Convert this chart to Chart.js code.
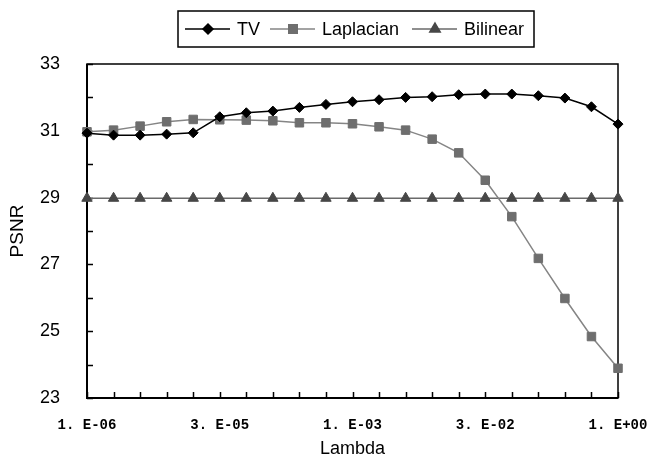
<!DOCTYPE html>
<html>
<head>
<meta charset="utf-8">
<script src="https://cdn.jsdelivr.net/npm/chart.js@4"></script>
<style>
  html, body { margin: 0; padding: 0; background: #fff; }
  #wrap { width: 647px; height: 461px; }
</style>
</head>
<body>
<div id="wrap"><canvas id="psnr-chart" width="647" height="461"></canvas></div>
<script>
const lambdaLabels = [
  "1. E-06", "2. E-06", "4. E-06", "8. E-06", "2. E-05",
  "3. E-05", "6. E-05", "1. E-04", "3. E-04", "5. E-04",
  "1. E-03", "2. E-03", "4. E-03", "8. E-03", "2. E-02",
  "3. E-02", "7. E-02", "1. E-01", "3. E-01", "5. E-01",
  "1. E+00"
];
const tvPsnr = [30.93, 30.87, 30.87, 30.9, 30.94, 31.42, 31.54, 31.59, 31.7, 31.79,
  31.87, 31.93, 32.0, 32.02, 32.08, 32.1, 32.1, 32.05, 31.98, 31.72, 31.2];
const laplacianPsnr = [30.97, 31.02, 31.14, 31.27, 31.34, 31.33, 31.32, 31.3, 31.24, 31.24,
  31.21, 31.12, 31.02, 30.75, 30.34, 29.52, 28.43, 27.18, 25.98, 24.84, 23.89];
const bilinearPsnr = [28.98, 28.98, 28.98, 28.98, 28.98, 28.98, 28.98, 28.98, 28.98, 28.98,
  28.98, 28.98, 28.98, 28.98, 28.98, 28.98, 28.98, 28.98, 28.98, 28.98, 28.98];
const yTickLabels = ["23", "25", "27", "29", "31", "33"];

const seriesNames = ["TV", "Laplacian", "Bilinear"];

// frame, inward tick marks and the boxed legend
const excelFrame = {
  id: "excelFrame",
  beforeDatasetsDraw(chart) {
    const { ctx, chartArea: a, scales } = chart;
    ctx.save();
    ctx.strokeStyle = "#000";
    ctx.lineWidth = 1.5;
    ctx.strokeRect(a.left, a.top, a.right - a.left, a.bottom - a.top);
    ctx.lineWidth = 2;
    ctx.beginPath();
    ctx.moveTo(a.left, a.top);
    ctx.lineTo(a.left, a.bottom);
    ctx.lineTo(a.right, a.bottom);
    ctx.stroke();
    ctx.lineWidth = 1.5;
    ctx.beginPath();
    for (let i = 0; i < lambdaLabels.length; i++) {
      const x = Math.round(scales.x.getPixelForValue(i)) + 0.5;
      ctx.moveTo(x, a.bottom);
      ctx.lineTo(x, a.bottom - 6);
    }
    for (let v = 23; v <= 33; v++) {
      const y = Math.round(scales.y.getPixelForValue(v)) + 0.5;
      ctx.moveTo(a.left, y);
      ctx.lineTo(a.left + 6, y);
    }
    ctx.stroke();
    ctx.restore();
  },
  afterDraw(chart) {
    const { ctx } = chart;
    const box = { left: 178, top: 11, right: 534, bottom: 47 };
    const midY = (box.top + box.bottom) / 2;
    ctx.save();
    ctx.strokeStyle = "#000";
    ctx.lineWidth = 1.5;
    ctx.strokeRect(box.left, box.top, box.right - box.left, box.bottom - box.top);
    ctx.font = "18px 'Liberation Sans', Arial, sans-serif";
    ctx.textBaseline = "middle";
    const starts = [185, 270, 412];
    chart.data.datasets.forEach((ds, i) => {
      const x0 = starts[i];
      ctx.strokeStyle = ds.borderColor;
      ctx.lineWidth = ds.borderWidth;
      ctx.beginPath();
      ctx.moveTo(x0, midY);
      ctx.lineTo(x0 + 45, midY);
      ctx.stroke();
      ctx.fillStyle = ds.pointBackgroundColor;
      ctx.strokeStyle = ds.pointBorderColor;
      Chart.helpers.drawPoint(ctx, {
        pointStyle: ds.pointStyle,
        radius: ds.pointRadius,
        borderWidth: 1
      }, x0 + 23, midY);
      ctx.fillStyle = "#000";
      ctx.fillText(ds.label, x0 + 52, midY + 1);
    });
    ctx.restore();
  }
};

const ctx = document.getElementById("psnr-chart").getContext("2d");
const psnrChart = new Chart(ctx, {
  type: "line",
  data: {
    labels: lambdaLabels,
    datasets: [
      {
        label: seriesNames[0],
        data: tvPsnr,
        borderColor: "#000000",
        backgroundColor: "#000000",
        borderWidth: 1.5,
        pointStyle: "rectRot",
        pointRadius: 5,
        pointBorderWidth: 1,
        pointBorderColor: "#000000",
        pointBackgroundColor: "#000000",
        tension: 0
      },
      {
        label: seriesNames[1],
        data: laplacianPsnr,
        borderColor: "#858585",
        backgroundColor: "#6e6e6e",
        borderWidth: 1.5,
        pointStyle: "rect",
        pointRadius: 6,
        pointBorderWidth: 1,
        pointBorderColor: "#6e6e6e",
        pointBackgroundColor: "#6e6e6e",
        tension: 0
      },
      {
        label: seriesNames[2],
        data: bilinearPsnr,
        borderColor: "#6a6a6a",
        backgroundColor: "#474747",
        borderWidth: 1.5,
        pointStyle: "triangle",
        pointRadius: 6,
        pointBorderWidth: 1,
        pointBorderColor: "#474747",
        pointBackgroundColor: "#474747",
        tension: 0
      }
    ]
  },
  options: {
    responsive: false,
    animation: false,
    devicePixelRatio: 1,
    layout: { padding: { left: 0, top: 64, right: 29, bottom: 0 } },
    plugins: {
      legend: { display: false },
      tooltip: { enabled: false }
    },
    scales: {
      x: {
        type: "category",
        offset: false,
        grid: { display: false },
        border: { display: false },
        ticks: {
          autoSkip: false,
          maxRotation: 0,
          padding: 11,
          color: "#000",
          font: { family: "'Liberation Mono', 'DejaVu Sans Mono', monospace", size: 14, weight: "bold" },
          callback: (v, i) => (i % 5 === 0 ? lambdaLabels[i] : "")
        },
        title: {
          display: true,
          text: "Lambda",
          color: "#000",
          font: { family: "'Liberation Sans', sans-serif", size: 18 },
          padding: { top: 2, bottom: 1 }
        },
        afterFit: (scale) => {
          scale.height = 63;
          scale.paddingLeft = 0;
          scale.paddingRight = 0;
        }
      },
      y: {
        min: 23,
        max: 33,
        grid: { display: false },
        border: { display: false },
        ticks: {
          stepSize: 1,
          padding: 19,
          color: "#000",
          font: { family: "'Liberation Sans', Arial, sans-serif", size: 18 },
          callback: (v) => (yTickLabels.includes(String(v)) ? String(v) : "")
        },
        title: {
          display: true,
          text: "PSNR",
          color: "#000",
          font: { family: "'Liberation Sans', Arial, sans-serif", size: 19 },
          padding: { top: 6, bottom: 4 }
        },
        afterFit: (scale) => {
          scale.width = 87;
          scale.paddingTop = 0;
          scale.paddingBottom = 0;
        }
      }
    }
  },
  plugins: [excelFrame]
});
</script>
</body>
</html>
